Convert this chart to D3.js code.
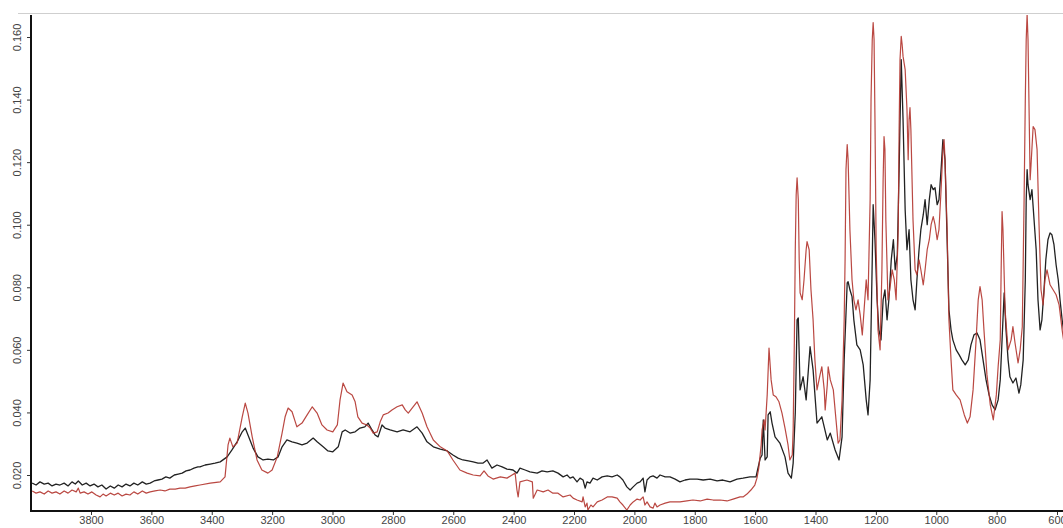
<!DOCTYPE html>
<html>
<head>
<meta charset="utf-8">
<script src="https://cdn.jsdelivr.net/npm/d3@7"></script>
<style>
  html, body { margin: 0; padding: 0; background: #fff; }
  svg { display: block; }
  .axis text { font-family: "Liberation Sans", Arial, sans-serif; font-size: 11px; fill: #444; }
</style>
</head>
<body>
<svg id="chart" width="1063" height="528"></svg>
<script>
// IR absorbance spectra, [wavenumber cm-1, absorbance]
const blackSpectrum = [
  [3995,0.0174],[3982,0.0168],[3969,0.0178],[3955,0.0171],[3942,0.0174],[3929,0.0165],[3916,0.0171],[3903,0.0168],
  [3889,0.0174],[3876,0.0165],[3863,0.0178],[3852,0.0171],[3842,0.0181],[3829,0.0168],[3816,0.0174],[3803,0.0165],
  [3790,0.0171],[3777,0.0162],[3764,0.0168],[3750,0.0155],[3736,0.0165],[3723,0.0158],[3710,0.0168],[3697,0.0162],
  [3684,0.0171],[3671,0.0165],[3658,0.0174],[3645,0.0168],[3630,0.0178],[3617,0.0171],[3604,0.0174],[3591,0.0181],
  [3578,0.0184],[3565,0.0187],[3552,0.0194],[3539,0.0190],[3524,0.0200],[3511,0.0203],[3498,0.0206],[3485,0.0213],
  [3472,0.0216],[3459,0.0222],[3446,0.0226],[3439,0.0226],[3422,0.0232],[3405,0.0235],[3389,0.0238],[3372,0.0242],
  [3349,0.0258],[3333,0.0280],[3316,0.0306],[3299,0.0338],[3289,0.0350],[3280,0.0328],[3263,0.0286],[3247,0.0258],
  [3230,0.0248],[3214,0.0251],[3196,0.0248],[3180,0.0258],[3167,0.0290],[3151,0.0312],[3134,0.0306],[3118,0.0302],
  [3101,0.0296],[3084,0.0302],[3064,0.0318],[3051,0.0306],[3031,0.0290],[3015,0.0277],[2999,0.0274],[2981,0.0290],
  [2968,0.0338],[2958,0.0344],[2942,0.0334],[2925,0.0338],[2909,0.0350],[2893,0.0354],[2882,0.0366],[2869,0.0344],
  [2859,0.0328],[2849,0.0322],[2836,0.0360],[2826,0.0350],[2809,0.0344],[2786,0.0338],[2766,0.0344],[2743,0.0338],
  [2720,0.0354],[2703,0.0334],[2687,0.0306],[2666,0.0290],[2643,0.0283],[2620,0.0277],[2601,0.0264],[2584,0.0254],
  [2568,0.0248],[2550,0.0245],[2534,0.0242],[2518,0.0238],[2501,0.0238],[2488,0.0248],[2472,0.0222],[2455,0.0232],
  [2438,0.0226],[2422,0.0219],[2402,0.0216],[2389,0.0206],[2379,0.0222],[2362,0.0216],[2346,0.0210],[2322,0.0206],
  [2306,0.0213],[2289,0.0210],[2270,0.0213],[2253,0.0206],[2236,0.0194],[2223,0.0200],[2213,0.0190],[2203,0.0194],
  [2190,0.0178],[2180,0.0190],[2170,0.0184],[2163,0.0158],[2157,0.0178],[2147,0.0174],[2137,0.0190],[2123,0.0184],
  [2107,0.0194],[2090,0.0197],[2074,0.0194],[2057,0.0200],[2048,0.0194],[2038,0.0184],[2025,0.0162],[2014,0.0152],
  [2004,0.0162],[1991,0.0174],[1981,0.0178],[1971,0.0190],[1965,0.0146],[1958,0.0184],[1948,0.0194],[1938,0.0197],
  [1925,0.0190],[1915,0.0200],[1898,0.0194],[1882,0.0194],[1865,0.0187],[1849,0.0178],[1832,0.0184],[1816,0.0187],
  [1792,0.0187],[1772,0.0184],[1749,0.0187],[1726,0.0181],[1707,0.0184],[1683,0.0178],[1660,0.0187],[1640,0.0190],
  [1617,0.0194],[1597,0.0194],[1592,0.0216],[1583,0.0254],[1577,0.0264],[1573,0.0376],[1567,0.0248],[1560,0.0258],
  [1557,0.0392],[1550,0.0402],[1544,0.0366],[1534,0.0322],[1518,0.0302],[1501,0.0258],[1491,0.0206],[1480,0.0190],
  [1474,0.0238],[1467,0.0398],[1461,0.0696],[1457,0.0702],[1451,0.0472],[1441,0.0514],[1431,0.0440],[1418,0.0610],
  [1408,0.0536],[1395,0.0366],[1379,0.0386],[1361,0.0312],[1351,0.0334],[1335,0.0280],[1322,0.0248],[1312,0.0322],
  [1305,0.0568],[1295,0.0814],[1292,0.0818],[1286,0.0792],[1279,0.0770],[1273,0.0696],[1263,0.0616],[1252,0.0600],
  [1242,0.0552],[1232,0.0440],[1226,0.0392],[1219,0.0504],[1212,0.0888],[1209,0.1064],[1203,0.0952],[1196,0.0760],
  [1190,0.0664],[1183,0.0632],[1176,0.0760],[1170,0.0792],[1163,0.0696],[1157,0.0760],[1149,0.0888],[1142,0.0952],
  [1136,0.0856],[1129,0.0904],[1123,0.1176],[1116,0.1528],[1110,0.1336],[1103,0.1048],[1097,0.0920],[1090,0.0984],
  [1084,0.0824],[1077,0.0760],[1070,0.0728],[1064,0.0824],[1057,0.0920],[1051,0.0984],[1043,0.1032],[1037,0.1080],
  [1030,0.1000],[1023,0.1080],[1017,0.1128],[1010,0.1112],[1004,0.1118],[997,0.1064],[991,0.1080],[984,0.1176],
  [978,0.1272],[971,0.1208],[964,0.0952],[958,0.0728],[951,0.0664],[945,0.0632],[934,0.0600],[924,0.0584],
  [915,0.0568],[904,0.0552],[894,0.0568],[885,0.0616],[875,0.0648],[865,0.0654],[855,0.0632],[845,0.0568],
  [835,0.0504],[825,0.0456],[815,0.0424],[805,0.0408],[795,0.0440],[788,0.0504],[782,0.0632],[775,0.0782],
  [769,0.0664],[762,0.0568],[756,0.0514],[746,0.0494],[736,0.0510],[726,0.0462],[720,0.0488],[712,0.0568],
  [705,0.0824],[702,0.1080],[699,0.1176],[696,0.1128],[689,0.1080],[683,0.1112],[676,0.1016],[669,0.0920],
  [663,0.0760],[656,0.0664],[650,0.0696],[643,0.0792],[637,0.0888],[630,0.0952],[623,0.0974],[617,0.0968],
  [610,0.0936],[603,0.0872],[596,0.0824],[590,0.0760],[583,0.0696],[576,0.0648]
];

const redSpectrum = [
  [3995,0.0149],[3982,0.0142],[3969,0.0146],[3955,0.0139],[3942,0.0149],[3929,0.0142],[3916,0.0146],[3903,0.0139],
  [3889,0.0149],[3876,0.0142],[3863,0.0152],[3849,0.0146],[3842,0.0158],[3836,0.0142],[3823,0.0146],[3810,0.0139],
  [3797,0.0146],[3783,0.0136],[3770,0.0130],[3760,0.0139],[3750,0.0133],[3736,0.0142],[3723,0.0136],[3710,0.0142],
  [3697,0.0133],[3684,0.0139],[3671,0.0136],[3658,0.0146],[3645,0.0139],[3630,0.0149],[3617,0.0142],[3604,0.0146],
  [3588,0.0149],[3571,0.0152],[3555,0.0149],[3539,0.0155],[3521,0.0155],[3505,0.0158],[3488,0.0158],[3472,0.0162],
  [3455,0.0165],[3439,0.0168],[3405,0.0174],[3372,0.0178],[3356,0.0194],[3346,0.0296],[3340,0.0318],[3330,0.0290],
  [3316,0.0302],[3299,0.0386],[3289,0.0430],[3280,0.0398],[3266,0.0322],[3250,0.0248],[3234,0.0216],[3214,0.0206],
  [3200,0.0216],[3183,0.0258],[3167,0.0334],[3157,0.0386],[3147,0.0414],[3134,0.0402],[3118,0.0354],[3101,0.0366],
  [3084,0.0392],[3067,0.0418],[3051,0.0398],[3035,0.0360],[3018,0.0344],[2999,0.0338],[2984,0.0360],[2975,0.0440],
  [2965,0.0494],[2952,0.0466],[2935,0.0456],[2925,0.0434],[2916,0.0386],[2902,0.0366],[2886,0.0360],[2875,0.0350],
  [2865,0.0334],[2852,0.0338],[2842,0.0370],[2832,0.0392],[2816,0.0398],[2803,0.0408],[2786,0.0418],[2769,0.0424],
  [2759,0.0408],[2749,0.0398],[2733,0.0418],[2720,0.0434],[2703,0.0398],[2687,0.0354],[2666,0.0312],[2643,0.0290],
  [2620,0.0277],[2601,0.0248],[2578,0.0216],[2554,0.0206],[2534,0.0200],[2511,0.0197],[2498,0.0213],[2485,0.0197],
  [2468,0.0187],[2444,0.0194],[2422,0.0190],[2405,0.0200],[2395,0.0206],[2389,0.0152],[2385,0.0130],[2379,0.0178],
  [2356,0.0184],[2338,0.0178],[2335,0.0126],[2322,0.0152],[2302,0.0146],[2286,0.0152],[2270,0.0142],[2253,0.0142],
  [2236,0.0130],[2213,0.0136],[2203,0.0126],[2190,0.0120],[2173,0.0114],[2170,0.0130],[2163,0.0098],[2157,0.0110],
  [2154,0.0088],[2144,0.0104],[2137,0.0098],[2123,0.0114],[2107,0.0120],[2090,0.0130],[2074,0.0130],[2057,0.0126],
  [2048,0.0114],[2038,0.0104],[2025,0.0088],[2014,0.0104],[2004,0.0114],[1991,0.0123],[1981,0.0120],[1971,0.0130],
  [1965,0.0104],[1958,0.0114],[1948,0.0098],[1938,0.0094],[1932,0.0110],[1925,0.0098],[1915,0.0104],[1898,0.0110],
  [1882,0.0114],[1865,0.0114],[1849,0.0114],[1826,0.0117],[1806,0.0120],[1782,0.0117],[1759,0.0123],[1739,0.0120],
  [1716,0.0120],[1693,0.0117],[1673,0.0123],[1650,0.0130],[1640,0.0130],[1627,0.0139],[1614,0.0152],[1601,0.0168],
  [1594,0.0190],[1588,0.0222],[1580,0.0296],[1577,0.0344],[1570,0.0376],[1567,0.0344],[1560,0.0456],[1554,0.0606],
  [1547,0.0504],[1540,0.0456],[1531,0.0450],[1521,0.0434],[1511,0.0398],[1501,0.0350],[1491,0.0296],[1485,0.0248],
  [1477,0.0264],[1474,0.0344],[1470,0.0632],[1467,0.0920],[1464,0.1096],[1461,0.1150],[1457,0.1080],[1454,0.0888],
  [1451,0.0782],[1444,0.0760],[1438,0.0824],[1431,0.0920],[1428,0.0946],[1421,0.0920],[1415,0.0792],[1408,0.0696],
  [1402,0.0568],[1395,0.0472],[1385,0.0520],[1379,0.0546],[1371,0.0472],[1368,0.0408],[1361,0.0488],[1358,0.0546],
  [1351,0.0504],[1341,0.0472],[1332,0.0376],[1325,0.0302],[1319,0.0312],[1312,0.0440],[1305,0.0696],[1302,0.0888],
  [1299,0.1176],[1295,0.1256],[1292,0.1208],[1286,0.0984],[1279,0.0824],[1273,0.0760],[1266,0.0728],[1259,0.0760],
  [1252,0.0712],[1245,0.0648],[1239,0.0728],[1232,0.0824],[1226,0.0760],[1219,0.1080],[1216,0.1400],[1212,0.1592],
  [1209,0.1646],[1206,0.1592],[1203,0.1336],[1199,0.0920],[1193,0.0664],[1186,0.0600],[1180,0.0856],[1176,0.1144],
  [1173,0.1282],[1170,0.1240],[1167,0.1016],[1160,0.0760],[1154,0.0792],[1146,0.0856],[1139,0.0824],[1133,0.0760],
  [1126,0.0984],[1123,0.1304],[1120,0.1528],[1116,0.1602],[1113,0.1576],[1110,0.1538],[1103,0.1496],[1097,0.1368],
  [1093,0.1208],[1090,0.1336],[1087,0.1374],[1084,0.1304],[1077,0.1016],[1070,0.0856],[1064,0.0840],[1057,0.0888],
  [1051,0.0856],[1043,0.0808],[1037,0.0856],[1030,0.0920],[1023,0.0952],[1017,0.1000],[1010,0.1026],[1004,0.1000],
  [997,0.0952],[991,0.0984],[984,0.1112],[978,0.1240],[974,0.1272],[971,0.1208],[964,0.0984],[958,0.0696],
  [951,0.0568],[945,0.0472],[934,0.0456],[921,0.0440],[907,0.0392],[897,0.0366],[888,0.0386],[878,0.0472],
  [868,0.0632],[861,0.0760],[855,0.0802],[848,0.0760],[842,0.0664],[832,0.0520],[821,0.0424],[811,0.0376],
  [801,0.0456],[795,0.0546],[788,0.0632],[785,0.0856],[782,0.1042],[779,0.0984],[772,0.0728],[762,0.0600],
  [752,0.0632],[746,0.0674],[739,0.0622],[729,0.0558],[722,0.0600],[715,0.0674],[709,0.1080],[705,0.1400],
  [702,0.1592],[699,0.1672],[696,0.1592],[692,0.1336],[689,0.1144],[686,0.1192],[679,0.1314],[673,0.1304],
  [666,0.1240],[660,0.1016],[653,0.0792],[646,0.0744],[640,0.0824],[633,0.0856],[623,0.0808],[613,0.0792],
  [603,0.0776],[593,0.0744],[583,0.0664],[576,0.0616]
];

const xTickValues = [3800, 3600, 3400, 3200, 3000, 2800, 2600, 2400, 2200, 2000, 1800, 1600, 1400, 1200, 1000, 800, 600];
const yTickValues = [0.020, 0.040, 0.060, 0.080, 0.100, 0.120, 0.140, 0.160];

const svg = d3.select("#chart");
const W = 1063, H = 528;
const plot = { left: 31, right: 1063, top: 15, bottom: 511 };

// wavenumber axis runs high -> low, left to right
const x = d3.scaleLinear().domain([3800, 600]).range([91, 1057]);
const y = d3.scaleLinear().domain([0.020, 0.160]).range([475, 37]);

// thin frame line along the top
svg.append("line")
  .attr("x1", 18).attr("x2", W).attr("y1", 13.5).attr("y2", 13.5)
  .attr("stroke", "#cfcfcf").attr("stroke-width", 1.2);

svg.append("defs").append("clipPath").attr("id", "plotClip")
  .append("rect")
  .attr("x", plot.left + 1).attr("y", plot.top)
  .attr("width", plot.right - plot.left).attr("height", plot.bottom - plot.top - 1);

const line = d3.line()
  .x(d => x(d[0]))
  .y(d => y(d[1]))
  .curve(d3.curveLinear);

const g = svg.append("g").attr("clip-path", "url(#plotClip)");

g.append("path").datum(blackSpectrum)
  .attr("fill", "none").attr("stroke", "#222")
  .attr("stroke-width", 1.3).attr("stroke-linejoin", "round")
  .attr("d", line);

g.append("path").datum(redSpectrum)
  .attr("fill", "none").attr("stroke", "#b3342e")
  .attr("stroke-width", 1.2).attr("stroke-linejoin", "round")
  .attr("opacity", 0.9)
  .attr("d", line);

// axes
const xAxis = d3.axisBottom(x).tickValues(xTickValues).tickSize(4).tickSizeOuter(0).tickFormat(d3.format("d"));
const yAxis = d3.axisLeft(y).tickValues(yTickValues).tickSize(4).tickSizeOuter(0).tickFormat(d3.format(".3f"));

const gx = svg.append("g").attr("class", "axis")
  .attr("transform", `translate(0,${plot.bottom})`)
  .call(xAxis);
gx.select(".domain").remove();
gx.selectAll(".tick line").attr("stroke", "#333");
gx.selectAll(".tick text").attr("dy", "0.55em").attr("y", 7);

const gy = svg.append("g").attr("class", "axis")
  .attr("transform", `translate(${plot.left},0)`)
  .call(yAxis);
gy.select(".domain").remove();
gy.selectAll(".tick line").attr("stroke", "#333");
gy.selectAll(".tick text")
  .attr("x", 0).attr("dy", 0)
  .attr("text-anchor", "middle")
  .attr("transform", "translate(-10,0) rotate(-90)");

// axis lines
svg.append("line")
  .attr("x1", plot.left).attr("x2", plot.left)
  .attr("y1", plot.top).attr("y2", plot.bottom + 1)
  .attr("stroke", "#111").attr("stroke-width", 2);
svg.append("line")
  .attr("x1", plot.left - 1).attr("x2", W)
  .attr("y1", plot.bottom).attr("y2", plot.bottom)
  .attr("stroke", "#111").attr("stroke-width", 2);
</script>
</body>
</html>
